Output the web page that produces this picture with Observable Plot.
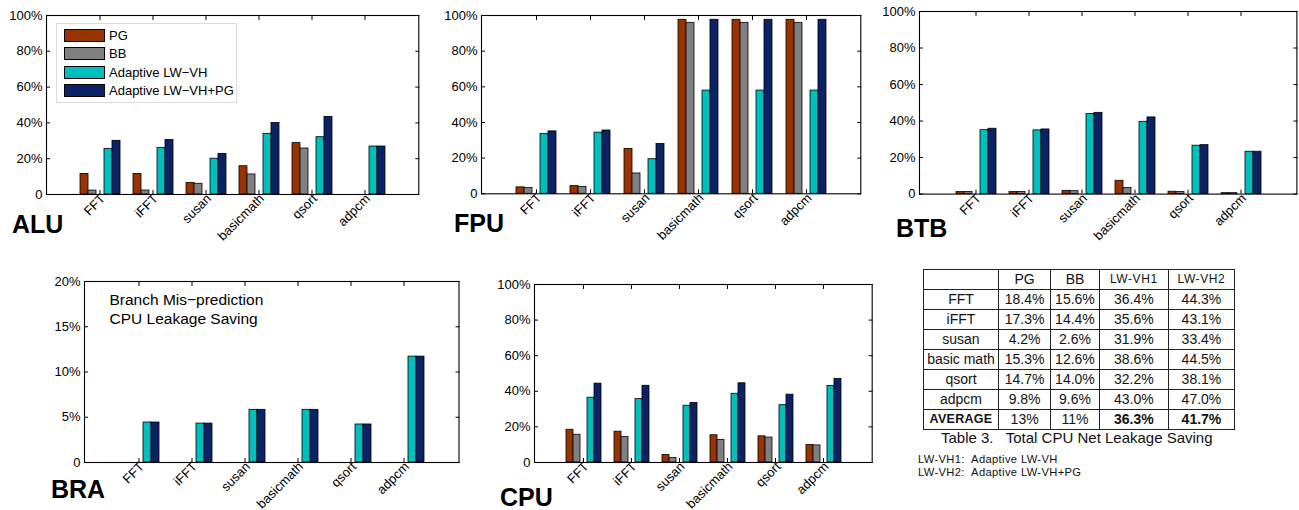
<!DOCTYPE html>
<html>
<head>
<meta charset="utf-8">
<script src="https://cdn.jsdelivr.net/npm/d3@7"></script>
<script src="https://cdn.jsdelivr.net/npm/@observablehq/plot@0.6"></script>
<style>
  html, body { margin: 0; padding: 0; background: #fff; overflow: hidden; }
  #stage { position: relative; width: 1299px; height: 510px; font-family: "Liberation Sans", Arial, Helvetica, sans-serif; color: #000; }
  .title { position: absolute; font-weight: bold; font-size: 25px; line-height: 25px; white-space: nowrap; }
  .legend { position: absolute; border: 1px solid #dcdcdc; background: #fff; box-sizing: border-box; }
  .legend .item { position: absolute; font-size: 13px; line-height: 13px; white-space: nowrap; }
  .legend .sw { position: absolute; border: 1px solid #000; box-sizing: border-box; }
  .note { position: absolute; font-size: 15.5px; line-height: 18.5px; white-space: nowrap; }
  table.t3 { position: absolute; border-collapse: collapse; table-layout: fixed; font-size: 14px; color: #111; }
  table.t3 td { border: 1px solid #222; height: 19px; padding: 0; text-align: center; line-height: 19px; white-space: nowrap; overflow: hidden; }
  table.t3 td.hdr { font-size: 12px; letter-spacing: 0.6px; }
  table.t3 td.avg { font-size: 12.5px; font-weight: bold; letter-spacing: 0.3px; }
  table.t3 td.b { font-weight: bold; }
  .caption { position: absolute; font-size: 15px; white-space: pre; color: #111; }
  .foot { position: absolute; font-size: 11.2px; letter-spacing: 0.35px; white-space: pre; color: #111; }
</style>
</head>
<body>
<div id="stage"></div>
<script>
// ---------------- data ----------------
const benchmarks = ["FFT", "iFFT", "susan", "basicmath", "qsort", "adpcm"];
const seriesKeys = ["PG", "BB", "Adaptive LW\u2212VH", "Adaptive LW\u2212VH+PG"];
const seriesColors = ["#993300", "#808080", "#00BFBF", "#0B2266"];
const slotDomain = ["PG", "BB", " ", "Adaptive LW\u2212VH", "Adaptive LW\u2212VH+PG"];

const aluPG   = [11.5, 11.5, 6.5, 15.8, 28.7, 0];
const aluBB   = [2.2, 2.2, 6.0, 11.2, 25.7, 0];
const aluLW   = [25.5, 26.0, 20.0, 33.9, 32.0, 26.8];
const aluLWPG = [30.0, 30.5, 22.7, 40.0, 43.4, 26.8];

const fpuPG   = [3.6, 4.3, 25.2, 97.6, 97.6, 97.6];
const fpuBB   = [3.2, 3.9, 11.4, 95.9, 95.9, 95.9];
const fpuLW   = [33.6, 34.3, 19.4, 57.9, 57.9, 57.9];
const fpuLWPG = [35.0, 35.5, 28.0, 97.6, 97.6, 97.6];

const btbPG   = [1.1, 1.1, 1.8, 7.3, 1.3, 0.5];
const btbBB   = [1.1, 1.1, 1.6, 3.3, 1.1, 0.5];
const btbLW   = [35.0, 34.9, 43.8, 39.6, 26.5, 23.2];
const btbLWPG = [35.8, 35.4, 44.5, 42.0, 26.8, 23.2];

const braPG   = [0, 0, 0, 0, 0, 0];
const braBB   = [0, 0, 0, 0, 0, 0];
const braLW   = [4.42, 4.3, 5.82, 5.82, 4.2, 11.7];
const braLWPG = [4.42, 4.3, 5.82, 5.82, 4.2, 11.7];

const cpuPG   = [18.4, 17.3, 4.2, 15.3, 14.7, 9.8];
const cpuBB   = [15.6, 14.4, 2.6, 12.6, 14.0, 9.6];
const cpuLW   = [36.4, 35.6, 31.9, 38.6, 32.2, 43.0];
const cpuLWPG = [44.3, 43.1, 33.4, 44.5, 38.1, 47.0];

const yTicks100 = [0, 20, 40, 60, 80, 100];
const yLabels100 = ["0", "20%", "40%", "60%", "80%", "100%"];
const yTicks20 = [0, 5, 10, 15, 20];
const yLabels20 = ["0", "5%", "10%", "15%", "20%"];

const tableRowLabels = ["FFT", "iFFT", "susan", "basic math", "qsort", "adpcm"];
const tableColLabels = ["PG", "BB", "LW-VH1", "LW-VH2"];
const tableAverage = ["13%", "11%", "36.3%", "41.7%"];
const tableCaption = "Table 3.   Total CPU Net Leakage Saving";
const footnotes = ["LW-VH1:  Adaptive LW-VH", "LW-VH2:  Adaptive LW-VH+PG"];

// ---------------- drawing ----------------
const stage = document.getElementById("stage");
const FONT = "'Liberation Sans', Arial, Helvetica, sans-serif";

function place(el, left, top) {
  el.style.position = "absolute";
  el.style.left = left + "px";
  el.style.top = top + "px";
  stage.appendChild(el);
  return el;
}

function panel({series, frame: [l, t, r, b], yMax, yTicks, yLabels, title, titlePos}) {
  const mL = 50, mR = 2, mT = 8, mB = 52;
  const W = (r - l) + mL + mR, H = (b - t) + mT + mB;
  const rows = [];
  benchmarks.forEach((bm, i) => series.forEach((arr, k) => rows.push({bench: bm, series: seriesKeys[k], value: arr[i]})));
  const common = {
    width: W, height: H, marginLeft: mL, marginRight: mR, marginTop: mT, marginBottom: mB,
    style: {background: "transparent", fontFamily: FONT, fontSize: "13px", color: "#000", overflow: "visible"}
  };
  const fmt = d => yLabels[yTicks.indexOf(d)];
  const axes = Plot.plot({
    ...common,
    x: {type: "band", domain: benchmarks, paddingInner: 0, paddingOuter: 0.5},
    y: {domain: [0, yMax]},
    marks: [
      Plot.axisY(yTicks, {anchor: "left", tickSize: 0, tickPadding: 4, tickFormat: fmt, label: null}),
      Plot.axisY(yTicks, {anchor: "left", tickSize: 4, dx: 4, tickFormat: () => "", label: null}),
      Plot.axisY(yTicks, {anchor: "right", tickSize: 4, dx: -4, tickFormat: () => "", label: null}),
      Plot.axisX({anchor: "bottom", tickSize: 4, dy: -4, tickFormat: () => "", label: null}),
      Plot.axisX({anchor: "top", tickSize: 4, dy: 4, tickFormat: () => "", label: null}),
      Plot.axisX({anchor: "bottom", tickSize: 0, tickPadding: 2, dx: 3, tickRotate: -45, label: null})
    ]
  });
  const bars = Plot.plot({
    ...common,
    fx: {domain: benchmarks, paddingInner: 0, paddingOuter: 0.5, axis: null, label: null},
    x: {domain: slotDomain, paddingInner: 0, paddingOuter: 0.8, axis: null},
    y: {domain: [0, yMax], axis: null},
    color: {domain: seriesKeys, range: seriesColors},
    marks: [
      Plot.barY(rows, {fx: "bench", x: "series", y: "value", fill: "series", stroke: "#000", strokeWidth: 0.8})
    ]
  });
  const frameOnly = Plot.plot({
    ...common,
    x: {type: "band", domain: benchmarks, paddingInner: 0, paddingOuter: 0.5, axis: null},
    y: {domain: [0, yMax], axis: null},
    marks: [Plot.frame({stroke: "#000", strokeWidth: 1.1})]
  });
  place(axes, l - mL, t - mT);
  place(bars, l - mL, t - mT);
  place(frameOnly, l - mL, t - mT);
  const tt = document.createElement("div");
  tt.className = "title";
  tt.textContent = title;
  place(tt, titlePos[0], titlePos[1] - 21.2);
}

panel({series: [aluPG, aluBB, aluLW, aluLWPG], frame: [46, 15, 418.3, 194], yMax: 100, yTicks: yTicks100, yLabels: yLabels100, title: "ALU", titlePos: [12, 233]});
panel({series: [fpuPG, fpuBB, fpuLW, fpuLWPG], frame: [480.7, 15, 860, 193.3], yMax: 100, yTicks: yTicks100, yLabels: yLabels100, title: "FPU", titlePos: [454, 232]});
panel({series: [btbPG, btbBB, btbLW, btbLWPG], frame: [919.3, 10.7, 1296.7, 193.3], yMax: 100, yTicks: yTicks100, yLabels: yLabels100, title: "BTB", titlePos: [896, 237]});
panel({series: [braPG, braBB, braLW, braLWPG], frame: [84, 280.7, 458.5, 461.7], yMax: 20, yTicks: yTicks20, yLabels: yLabels20, title: "BRA", titlePos: [51, 498]});
panel({series: [cpuPG, cpuBB, cpuLW, cpuLWPG], frame: [534, 284.3, 871.7, 462.3], yMax: 100, yTicks: yTicks100, yLabels: yLabels100, title: "CPU", titlePos: [500, 506.5]});

// legend (ALU panel)
const legend = document.createElement("div");
legend.className = "legend";
legend.style.width = "181px";
legend.style.height = "80px";
seriesKeys.forEach((name, i) => {
  const sw = document.createElement("div");
  sw.className = "sw";
  sw.style.left = "7.5px";
  sw.style.top = (5.5 + i * 18.3) + "px";
  sw.style.width = "41px";
  sw.style.height = "13px";
  sw.style.background = seriesColors[i];
  legend.appendChild(sw);
  const tx = document.createElement("div");
  tx.className = "item";
  tx.style.left = "52.5px";
  tx.style.top = (5.5 + i * 18.3) + "px";
  tx.textContent = name;
  legend.appendChild(tx);
});
place(legend, 55.5, 22.7);

// BRA note
const note = document.createElement("div");
note.className = "note";
note.innerHTML = "Branch Mis\u2212prediction<br>CPU Leakage Saving";
place(note, 109.5, 291);

// Table 3
const table = document.createElement("table");
table.className = "t3";
const colW = [75.6, 51.7, 49, 68.7, 66.6];
const colgroup = document.createElement("colgroup");
colW.forEach(w => { const c = document.createElement("col"); c.style.width = w + "px"; colgroup.appendChild(c); });
table.appendChild(colgroup);
const tb = document.createElement("tbody");
function addRow(cells, classes) {
  const tr = document.createElement("tr");
  cells.forEach((c, j) => {
    const td = document.createElement("td");
    td.textContent = c;
    if (classes && classes[j]) td.className = classes[j];
    tr.appendChild(td);
  });
  tb.appendChild(tr);
}
addRow(["", ...tableColLabels], ["", "", "", "hdr", "hdr"]);
const fmtPct = v => v.toFixed(1) + "%";
tableRowLabels.forEach((lab, i) => {
  addRow([lab, fmtPct(cpuPG[i]), fmtPct(cpuBB[i]), fmtPct(cpuLW[i]), fmtPct(cpuLWPG[i])]);
});
addRow(["AVERAGE", ...tableAverage], ["avg", "", "", "b", "b"]);
table.appendChild(tb);
table.style.width = colW.reduce((a, b) => a + b, 0) + "px";
place(table, 922.7, 269.3);

const cap = document.createElement("div");
cap.className = "caption";
cap.textContent = tableCaption;
place(cap, 941, 429);

footnotes.forEach((f, i) => {
  const d = document.createElement("div");
  d.className = "foot";
  d.textContent = f;
  place(d, 918, 452.5 + i * 13);
});
</script>
</body>
</html>
